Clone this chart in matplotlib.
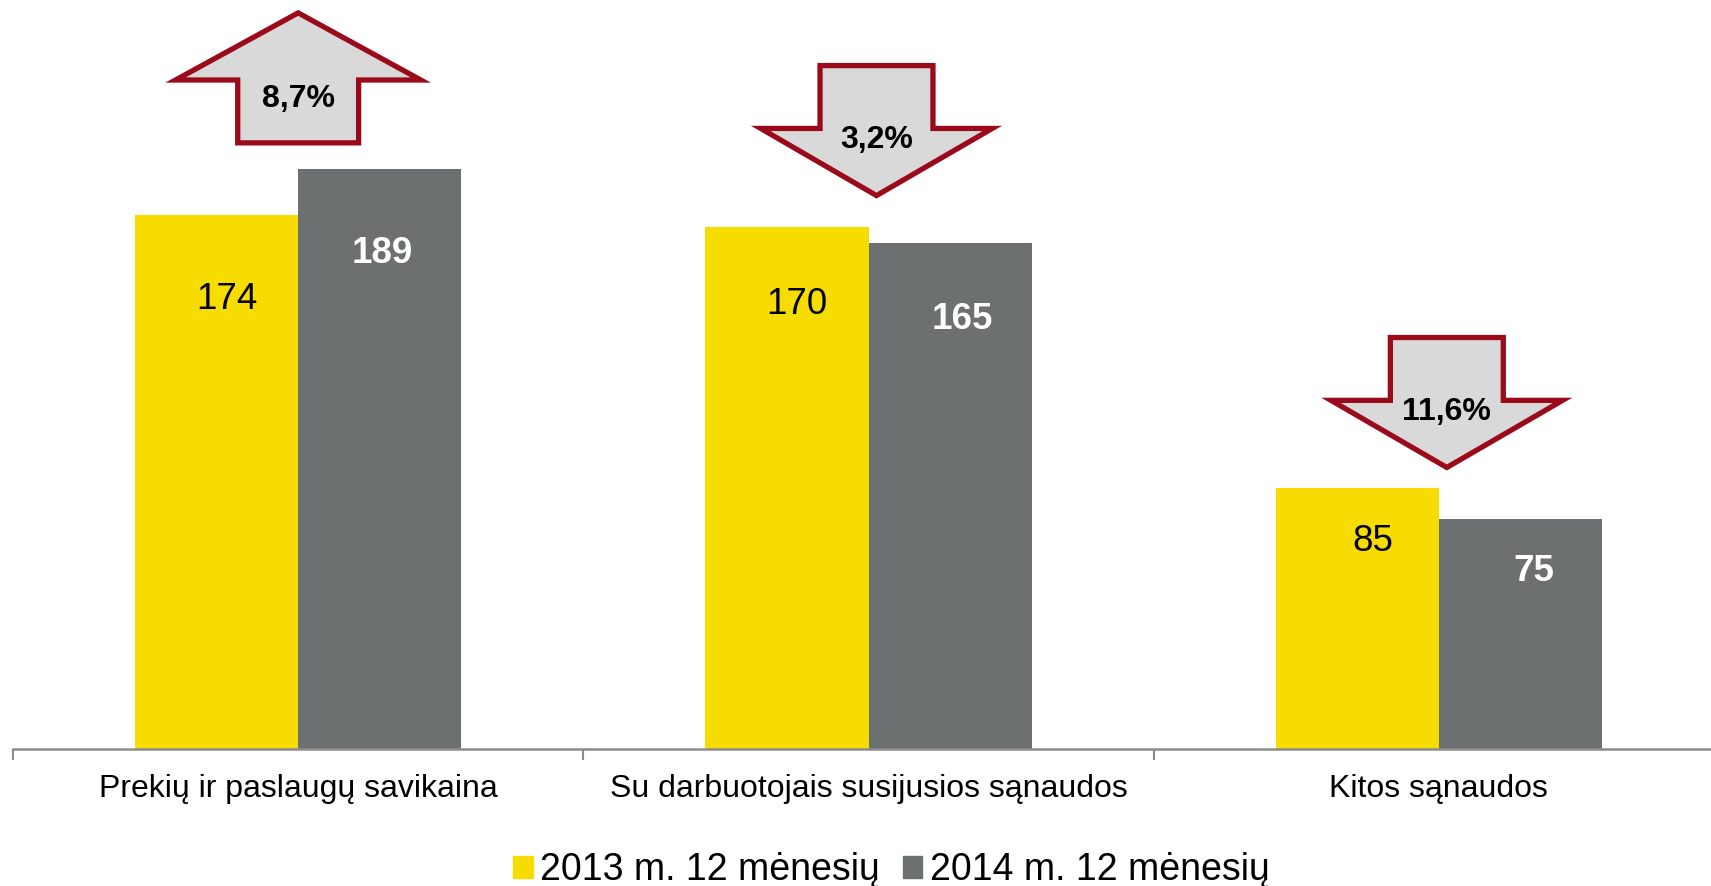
import matplotlib
matplotlib.use("Agg")
import matplotlib.pyplot as plt
from matplotlib.patches import Polygon, Patch
import numpy as np

plt.rcParams['font.family'] = ['Liberation Sans', 'DejaVu Sans']

# data
categories = ["Prekių ir paslaugų savikaina",
              "Su darbuotojais susijusios sąnaudos",
              "Kitos sąnaudos"]
series_names = ["2013 m. 12 mėnesių", "2014 m. 12 mėnesių"]
vals_2013 = [174, 170, 85]
vals_2014 = [189, 165, 75]
change_labels = ["8,7%", "3,2%", "11,6%"]
change_up = [True, False, False]

# styles / placement tweaks
c_2013 = "#F7DC00"
c_2014 = "#6D7070"
arrow_fill = "#D9D9D9"
arrow_edge = "#9B0A1A"
bar_w = 0.286
label_drop = [27.5, 25.0, 17.3]      # value text below bar top
nudge_2013 = [0.018, 0.017, 0.027]   # small sideways shift of value text
nudge_2014 = [0.004, 0.022, 0.023]
arrow_gap = [8.6, 10.4, 6.7]         # space between tallest bar and arrow

fig = plt.figure(figsize=(17.11, 8.86), dpi=100)
ax = fig.add_axes([0.0076, 0.1551, 1.0, 0.8449])

x = np.arange(len(categories))
ax.bar(x - bar_w / 2, vals_2013, bar_w, color=c_2013)
ax.bar(x + bar_w / 2, vals_2014, bar_w, color=c_2014)

for i in range(len(categories)):
    ax.text(x[i] - bar_w / 2 + nudge_2013[i], vals_2013[i] - label_drop[i], str(vals_2013[i]),
            ha='center', va='center', fontsize=26.5, color='black')
    ax.text(x[i] + bar_w / 2 + nudge_2014[i], vals_2014[i] - label_drop[i], str(vals_2014[i]),
            ha='center', va='center', fontsize=26.5, color='white', fontweight='bold')

# block arrows with % change
H, head = 42.4, 21.9
for i in range(len(categories)):
    base = max(vals_2013[i], vals_2014[i]) + arrow_gap[i]
    if change_up[i]:
        cx = x[i]
        wing, shaft = 0.215, 0.106
        pts = [(cx - shaft, base), (cx + shaft, base), (cx + shaft, base + H - head),
               (cx + wing, base + H - head), (cx, base + H), (cx - wing, base + H - head),
               (cx - shaft, base + H - head)]
        ty = base + 0.338 * H
    else:
        cx = x[i] + 0.014
        wing, shaft = 0.203, 0.099
        pts = [(cx, base), (cx + wing, base + head), (cx + shaft, base + head),
               (cx + shaft, base + H), (cx - shaft, base + H), (cx - shaft, base + head),
               (cx - wing, base + head)]
        ty = base + 0.43 * H
    ax.add_patch(Polygon(pts, closed=True, facecolor=arrow_fill, edgecolor=arrow_edge,
                         lw=3.8, joinstyle='miter', clip_on=False, zorder=3))
    ax.text(cx, ty, change_labels[i], ha='center', va='center', fontsize=23,
            fontweight='bold', color='black', zorder=4)

ax.set_xlim(-0.5, 2.5)
ax.set_ylim(0, 244.2)
for s in ['top', 'right', 'left']:
    ax.spines[s].set_visible(False)
ax.spines['bottom'].set_color('#8C8C8C')
ax.spines['bottom'].set_linewidth(1.8)
ax.set_yticks([])
ax.set_xticks(x)
ax.set_xticklabels(categories, fontsize=23)
ax.tick_params(axis='x', which='major', length=0, pad=18.5)
ax.set_xticks([-0.5, 0.5, 1.5, 2.5], minor=True)
ax.tick_params(axis='x', which='minor', length=8, width=1.5, color='#8C8C8C')

handles = [Patch(color=c_2013), Patch(color=c_2014)]
fig.legend(handles, series_names, loc='center', bbox_to_anchor=(0.521, 0.018), ncol=2,
           frameon=False, fontsize=27, handlelength=0.52, handleheight=0.52,
           handletextpad=0.2, columnspacing=0.6)

fig.savefig("out.png", dpi=100)
